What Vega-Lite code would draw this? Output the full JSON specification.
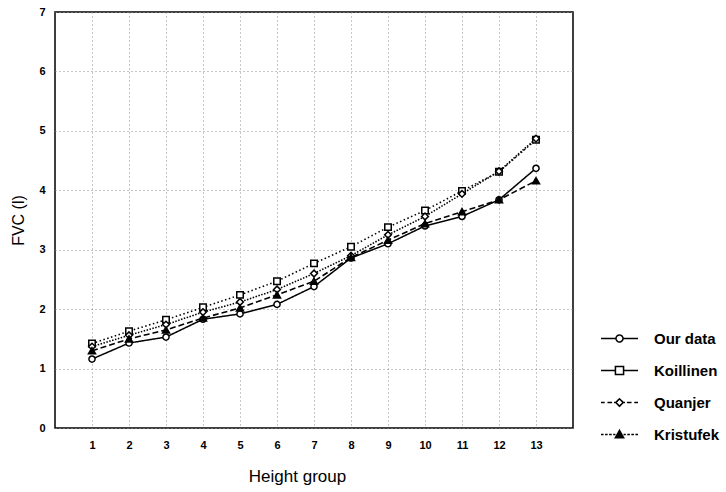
{
  "$schema": "https://vega.github.io/schema/vega-lite/v6.json",
  "width": 518,
  "height": 416,
  "autosize": {"type": "none"},
  "padding": {"left": 55, "top": 12, "right": 153, "bottom": 64},
  "background": "white",
  "config": {
    "view": {"stroke": "black", "strokeWidth": 1.5},
    "font": "Liberation Sans",
    "axis": {
      "grid": true,
      "gridColor": "#8a8a8a",
      "gridDash": [1, 3],
      "gridWidth": 1,
      "domain": false,
      "ticks": false,
      "labelFont": "Liberation Sans",
      "labelFontSize": 11,
      "labelFontWeight": "bold",
      "labelColor": "black",
      "titleFont": "Liberation Sans",
      "titleFontSize": 16,
      "titleFontWeight": "normal",
      "titleColor": "black"
    }
  },
  "data": {
    "values": [
      {"g": 1, "s": "Our data", "v": 1.16},
      {"g": 2, "s": "Our data", "v": 1.43},
      {"g": 3, "s": "Our data", "v": 1.53},
      {"g": 4, "s": "Our data", "v": 1.83},
      {"g": 5, "s": "Our data", "v": 1.92},
      {"g": 6, "s": "Our data", "v": 2.08},
      {"g": 7, "s": "Our data", "v": 2.38},
      {"g": 8, "s": "Our data", "v": 2.86},
      {"g": 9, "s": "Our data", "v": 3.1},
      {"g": 10, "s": "Our data", "v": 3.4},
      {"g": 11, "s": "Our data", "v": 3.56},
      {"g": 12, "s": "Our data", "v": 3.84},
      {"g": 13, "s": "Our data", "v": 4.37},
      {"g": 1, "s": "Koillinen", "v": 1.42},
      {"g": 2, "s": "Koillinen", "v": 1.63},
      {"g": 3, "s": "Koillinen", "v": 1.82},
      {"g": 4, "s": "Koillinen", "v": 2.03},
      {"g": 5, "s": "Koillinen", "v": 2.24},
      {"g": 6, "s": "Koillinen", "v": 2.47},
      {"g": 7, "s": "Koillinen", "v": 2.77},
      {"g": 8, "s": "Koillinen", "v": 3.05},
      {"g": 9, "s": "Koillinen", "v": 3.38},
      {"g": 10, "s": "Koillinen", "v": 3.66},
      {"g": 11, "s": "Koillinen", "v": 3.99},
      {"g": 12, "s": "Koillinen", "v": 4.31},
      {"g": 13, "s": "Koillinen", "v": 4.85},
      {"g": 1, "s": "Quanjer", "v": 1.37},
      {"g": 2, "s": "Quanjer", "v": 1.56},
      {"g": 3, "s": "Quanjer", "v": 1.74},
      {"g": 4, "s": "Quanjer", "v": 1.95},
      {"g": 5, "s": "Quanjer", "v": 2.12},
      {"g": 6, "s": "Quanjer", "v": 2.33},
      {"g": 7, "s": "Quanjer", "v": 2.6},
      {"g": 8, "s": "Quanjer", "v": 2.9},
      {"g": 9, "s": "Quanjer", "v": 3.25},
      {"g": 10, "s": "Quanjer", "v": 3.56},
      {"g": 11, "s": "Quanjer", "v": 3.94},
      {"g": 12, "s": "Quanjer", "v": 4.32},
      {"g": 13, "s": "Quanjer", "v": 4.87},
      {"g": 1, "s": "Kristufek", "v": 1.3},
      {"g": 2, "s": "Kristufek", "v": 1.5},
      {"g": 3, "s": "Kristufek", "v": 1.65},
      {"g": 4, "s": "Kristufek", "v": 1.85},
      {"g": 5, "s": "Kristufek", "v": 2.02},
      {"g": 6, "s": "Kristufek", "v": 2.24},
      {"g": 7, "s": "Kristufek", "v": 2.47},
      {"g": 8, "s": "Kristufek", "v": 2.87},
      {"g": 9, "s": "Kristufek", "v": 3.16},
      {"g": 10, "s": "Kristufek", "v": 3.44},
      {"g": 11, "s": "Kristufek", "v": 3.64},
      {"g": 12, "s": "Kristufek", "v": 3.84},
      {"g": 13, "s": "Kristufek", "v": 4.16}
    ]
  },
  "encoding": {
    "x": {
      "field": "g",
      "type": "quantitative",
      "scale": {"domain": [0, 14], "nice": false, "zero": false},
      "axis": {"title": "Height group", "values": [1,2,3,4,5,6,7,8,9,10,11,12,13], "labelPadding": 11, "titlePadding": 18, "titleFontSize": 17, "titleX": 242}
    },
    "y": {
      "field": "v",
      "type": "quantitative",
      "scale": {"domain": [0, 7], "nice": false},
      "axis": {"title": "FVC (l)", "values": [0,1,2,3,4,5,6,7], "labelPadding": 10, "titlePadding": 12}
    }
  },
  "layer": [
    {
      "mark": {"type": "line", "color": "black"},
      "encoding": {
        "strokeWidth": {
          "field": "s",
          "type": "nominal",
          "scale": {"domain": ["Our data", "Koillinen", "Quanjer", "Kristufek"], "range": [1.5, 1.6, 1.1, 1.6]},
          "legend": {
            "orient": "none",
            "legendX": 545,
            "legendY": 307,
            "title": null,
            "padding": 0,
            "labelFont": "Liberation Sans",
            "labelFontSize": 15,
            "labelFontWeight": "bold",
            "labelColor": "black",
            "symbolSize": 1369,
            "labelOffset": 15,
            "rowPadding": 4,
            "symbolStrokeColor": "black",
            "encoding": {
              "symbols": {
                "shape": {"value": {"expr": "datum.value === 'Our data' ? 'M-1,0L-0.19,0M0.19,0L1,0M0.19,0A0.19,0.19 0 1 1 -0.19,0A0.19,0.19 0 1 1 0.19,0Z' : datum.value === 'Koillinen' ? 'M-1,0L-0.22,0M0.22,0L1,0M-0.22,-0.22L0.22,-0.22L0.22,0.22L-0.22,0.22Z' : datum.value === 'Quanjer' ? 'M-1,0L-0.8,0M-0.65,0L-0.4,0M-0.3,0L-0.2,0M0.2,0L0.3,0M0.4,0L0.65,0M0.8,0L1,0M0,-0.2L0.2,0L0,0.2L-0.2,0Z' : 'M-1,0L-0.86,0M-0.78,0L-0.64,0M-0.56,0L-0.42,0M-0.34,0L-0.22,0M0.22,0L0.34,0M0.42,0L0.56,0M0.64,0L0.78,0M0.86,0L1,0M0,-0.22L0.22,0.17L-0.22,0.17Z'"}},
                "fill": {"value": {"expr": "datum.value === 'Kristufek' ? 'black' : 'white'"}},
                "stroke": {"value": "black"},
                "strokeDash": {"value": [1, 0]},
                "size": {"value": 1369},
                "opacity": {"value": 1}
              }
            }
          }
        },
        "strokeDash": {
          "field": "s",
          "type": "nominal",
          "scale": {"domain": ["Kristufek", "Quanjer", "Koillinen", "Our data"], "range": [[6, 3], [1.5, 1.5], [1.5, 2.5], [1, 0]]},
          "legend": null
        }
      }
    },
    {
      "mark": {"type": "point", "filled": true, "stroke": "black", "strokeWidth": 1.5, "opacity": 1},
      "encoding": {
        "shape": {
          "field": "s",
          "type": "nominal",
          "scale": {"domain": ["Kristufek", "Quanjer", "Koillinen", "Our data"], "range": ["triangle-up", "diamond", "square", "circle"]},
          "legend": null
        },
        "fill": {
          "field": "s",
          "type": "nominal",
          "scale": {"domain": ["Kristufek", "Quanjer", "Koillinen", "Our data"], "range": ["black", "white", "white", "white"]},
          "legend": null
        },
        "size": {
          "field": "s",
          "type": "nominal",
          "scale": {"domain": ["Kristufek", "Quanjer", "Koillinen", "Our data"], "range": [50, 38, 70, 55]},
          "legend": null
        }
      }
    }
  ]
}
